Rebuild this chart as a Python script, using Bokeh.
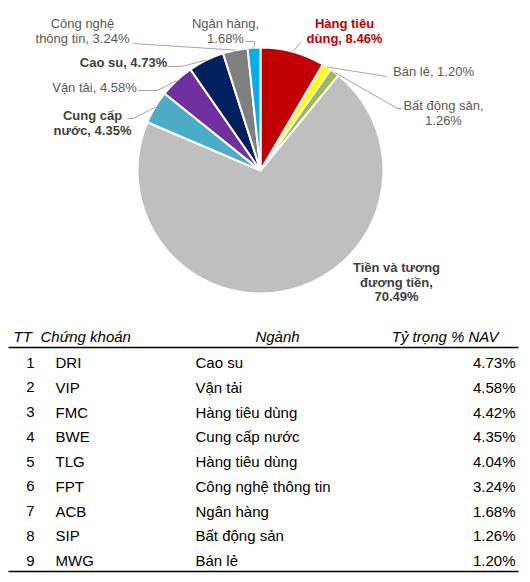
import math
from bokeh.plotting import figure
from bokeh.models import Range1d
from bokeh.core.properties import value
from bokeh.embed import file_html
from bokeh.resources import INLINE

# ---------------- data ----------------
sectors = ["Hàng tiêu dùng", "Bán lẻ", "Bất động sản", "Tiền và tương đương tiền",
           "Cung cấp nước", "Vận tải", "Cao su", "Công nghệ thông tin", "Ngân hàng"]
shares = [8.46, 1.20, 1.26, 70.49, 4.35, 4.58, 4.73, 3.24, 1.68]
slice_colors = ["#C00000", "#FFFF00", "#9BBB59", "#BFBFBF", "#4BACC6",
                "#7030A0", "#002060", "#7F7F7F", "#00B0F0"]

tt = [1, 2, 3, 4, 5, 6, 7, 8, 9]
tickers = ["DRI", "VIP", "FMC", "BWE", "TLG", "FPT", "ACB", "SIP", "MWG"]
industries = ["Cao su", "Vận tải", "Hàng tiêu dùng", "Cung cấp nước", "Hàng tiêu dùng",
              "Công nghệ thông tin", "Ngân hàng", "Bất động sản", "Bán lẻ"]
weights = [4.73, 4.58, 4.42, 4.35, 4.04, 3.24, 1.68, 1.26, 1.20]
headers = ["TT", "Chứng khoán", "Ngành", "Tỷ trọng % NAV"]

# ---------------- layout ----------------
W, H = 522, 574
FONT = value("Liberation Sans")


def Y(img_y):
    return H - img_y


p = figure(width=W, height=H, output_backend="svg", toolbar_location=None,
           x_range=Range1d(0, W), y_range=Range1d(0, H),
           x_axis_location=None, y_axis_location=None, min_border=0)
p.xgrid.visible = False
p.ygrid.visible = False
p.outline_line_color = None
p.background_fill_color = "white"
p.border_fill_color = "white"

# ---------------- pie ----------------
cx, cy, R = 260, 170, 123
total = sum(shares)
starts, ends, mids = [], [], []
cum = 0.0
for s in shares:
    a0 = math.pi / 2 - 2 * math.pi * cum / total
    cum += s
    a1 = math.pi / 2 - 2 * math.pi * cum / total
    starts.append(a0)
    ends.append(a1)
    mids.append((a0 + a1) / 2)

p.wedge(x=[cx] * len(shares), y=[Y(cy)] * len(shares), radius=R,
        start_angle=starts, end_angle=ends, direction="clock",
        fill_color=slice_colors, line_color="white", line_width=2)

# label settings: (break-after word indices, centre x, first line y, bold, colour)
label_cfg = {
    0: ([2], 344, 23, True, "#C00000"),
    1: ([], 433, 71, False, "#595959"),
    2: ([3], 443, 105, False, "#595959"),
    3: ([3, 5], 396, 267, True, "#404040"),
    4: ([2], 92, 115, True, "#404040"),
    5: ([], 94, 87, False, "#595959"),
    6: ([], 123, 62, True, "#404040"),
    7: ([2], 82, 23, False, "#595959"),
    8: ([2], 225, 23, False, "#595959"),
}
# leader elbows (image coords), ending at the slice edge
leader_cfg = {
    0: [(300, 42)],
    1: [(386, 76)],
    2: [(402, 108), (397, 108)],
    4: [(127, 118), (133, 118)],
    5: [(137, 90), (157, 90)],
    6: [(167, 66), (181, 66)],
    7: [(133, 43)],
    8: [(245, 41), (254, 41)],
}

LH = 14.5
for i, name in enumerate(sectors):
    words = (f"{name}, {shares[i]:.2f}%").split(" ")
    brks, lx, ly, bold, col = label_cfg[i]
    lines, cur = [], []
    for k, w in enumerate(words, start=1):
        cur.append(w)
        if k in brks:
            lines.append(" ".join(cur))
            cur = []
    if cur:
        lines.append(" ".join(cur))
    p.text(x=[lx] * len(lines), y=[Y(ly + j * LH) for j in range(len(lines))],
           text=lines, text_font=FONT, text_font_size="13px",
           text_font_style="bold" if bold else "normal", text_color=col,
           text_align="center", text_baseline="middle")
    if i in leader_cfg:
        ex = cx + R * math.cos(mids[i])
        ey = cy - R * math.sin(mids[i])
        pts = leader_cfg[i] + [(ex, ey)]
        p.line(x=[q[0] for q in pts], y=[Y(q[1]) for q in pts],
               line_color="#A6A6A6", line_width=1)

# ---------------- table ----------------
head_y = 336
row_y0, row_dy = 362, 24.75
p.text(x=[13, 40], y=[Y(head_y)] * 2, text=headers[:2], text_font=FONT,
       text_font_size="15px", text_font_style="italic", text_color="black",
       text_align="left", text_baseline="middle")
p.text(x=[277], y=[Y(head_y)], text=[headers[2]], text_font=FONT,
       text_font_size="15px", text_font_style="italic", text_color="black",
       text_align="center", text_baseline="middle")
p.text(x=[498], y=[Y(head_y)], text=[headers[3]], text_font=FONT,
       text_font_size="15px", text_font_style="italic", text_color="black",
       text_align="right", text_baseline="middle")

ys = [Y(row_y0 + k * row_dy) for k in range(len(tt))]
common = dict(text_font=FONT, text_font_size="15px", text_color="black",
              text_baseline="middle")
p.text(x=[30] * len(tt), y=ys, text=[str(t) for t in tt], text_align="center", **common)
p.text(x=[55] * len(tt), y=ys, text=tickers, text_align="left", **common)
p.text(x=[195] * len(tt), y=ys, text=industries, text_align="left", **common)
p.text(x=[515] * len(tt), y=ys, text=[f"{w:.2f}%" for w in weights],
       text_align="right", **common)

p.segment(x0=[8, 8], y0=[Y(347), Y(571)], x1=[518, 518], y1=[Y(347), Y(571)],
          line_color="black", line_width=1.5)

open("out.html", "w").write(file_html(p, INLINE))
